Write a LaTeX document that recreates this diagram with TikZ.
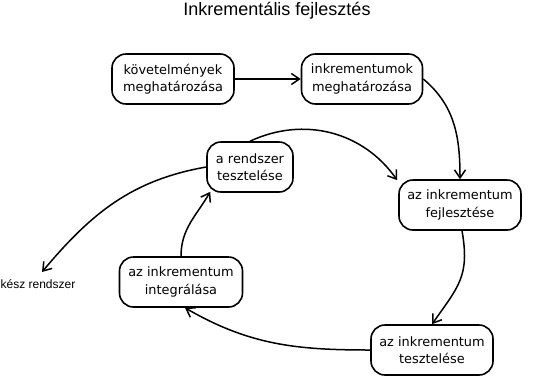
\documentclass[tikz,border=0pt]{standalone}
\usepackage{fontspec}
\setmainfont{DejaVu Sans}
\newfontfamily\titlefont{Liberation Sans}
\usetikzlibrary{arrows.meta}

\begin{document}
\begin{tikzpicture}[x=1pt,y=-1pt,
  stepbox/.style={draw, line width=1.6pt, rounded corners=14pt, align=center,
    minimum height=50pt, inner xsep=5pt,
    font=\fontsize{12.9}{17.5}\selectfont},
  flow/.style={-{Straight Barb[length=8pt,width=11pt]}, line width=1.5pt},
  plain/.style={font=\titlefont\fontsize{12}{14}\selectfont, inner sep=1pt}]
\useasboundingbox (0,0) rectangle (534,378);

% title
\node[font=\titlefont\fontsize{18}{20}\selectfont] (title) at (277,11) {Inkrementális fejlesztés};

% process steps
\node[stepbox, minimum width=122pt] (req)  at (173,79)  {követelmények\\meghatározása};
\node[stepbox, minimum width=121pt] (inc)  at (362,79)  {inkrementumok\\meghatározása};
\node[stepbox, minimum width=86pt]  (sys)  at (250,167) {a rendszer\\tesztelése};
\node[stepbox, minimum width=122pt] (dev)  at (460,205) {az inkrementum\\fejlesztése};
\node[stepbox, minimum width=123pt] (intg) at (181,282) {az inkrementum\\integrálása};
\node[stepbox, minimum width=122pt] (tst)  at (432,350) {az inkrementum\\tesztelése};

% finished system
\node[plain] (done) at (38,284) {kész rendszer};
\coordinate (donetip) at (42,272);

% connectors
\draw[flow] (req) -- (inc);
\draw[flow] (inc.east) to[out=-40, in=90] (dev.north);
\draw[flow] ([xshift=2pt]dev.south) to[out=-80, in=55, looseness=1.2] (tst.north);
\draw[flow] (tst.west) to[out=180, in=-30] ([xshift=4pt]intg.south);
\draw[flow] (intg.north) to[out=90, in=-120] ([xshift=4pt,yshift=1pt]sys.south west);
\draw[flow] (sys.north) to[out=25, in=125] ([xshift=-1pt,yshift=-1pt]dev.north west);
\draw[flow] (sys.west) to[out=190, in=50] (donetip);
\end{tikzpicture}
\end{document}
